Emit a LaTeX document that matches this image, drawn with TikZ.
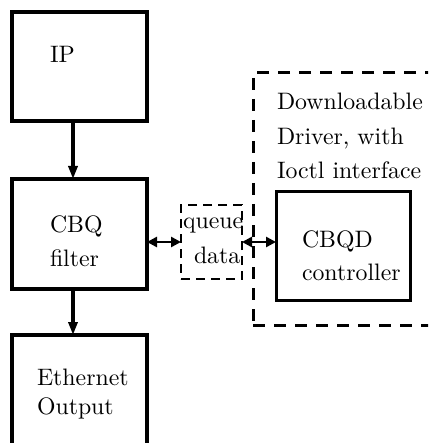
\documentclass[tikz,border=0pt]{standalone}
\usetikzlibrary{arrows.meta}
\newcommand{\T}[1]{\scalebox{2.38}{#1}}
\begin{document}
\begin{tikzpicture}[x=1pt,y=-1pt,
  box/.style={draw, line width=3.5pt, minimum width=135pt, inner sep=0pt, outer sep=0pt},
  txt/.style={anchor=base west, inner sep=0pt, outer sep=0pt},
  mainarrow/.style={line width=3.5pt, -{Triangle[length=13pt,width=9pt]}},
  sidearrow/.style={line width=2.5pt, {Triangle[length=10pt,width=10pt]}-{Triangle[length=10pt,width=10pt]}}]
\useasboundingbox (0,0) rectangle (428,443);
\clip (0,0) rectangle (428,443);
\fill[white] (0,0) rectangle (428,443);
% boxes
\node[box, minimum height=109pt] (ip) at (79.5,66.5) {};
\node[box, minimum height=110pt] (cbq) at (79.5,234) {};
\node[box, minimum height=145pt] (eth) at (79.5,407.5) {};
\node[draw, line width=3pt, dash pattern=on 12pt off 9pt, minimum width=197pt, minimum height=252pt, inner sep=0pt, outer sep=0pt] (drv) at (351.5,199) {};
\node[draw, line width=2.5pt, dash pattern=on 9pt off 6pt, minimum width=61pt, minimum height=74pt, inner sep=0pt, outer sep=0pt] (queue) at (211.5,242) {};
\node[draw, line width=3pt, minimum width=134pt, minimum height=108pt, inner sep=0pt, outer sep=0pt] (cbqd) at (343,246) {};
% texts
\node[txt] (tip) at (50,63) {\T{IP}};
\node[txt] (tcbq) at (50,232) {\T{CBQ}};
\node[txt] (tfilter) at (50,266) {\T{filter}};
\node[txt] (teth) at (37,385) {\T{Ethernet}};
\node[txt] (tout) at (37,414) {\T{Output}};
\node[txt] (tdl) at (277,110) {\T{Downloadable}};
\node[txt] (tdrv) at (277,145) {\T{Driver, with}};
\node[txt] (tio) at (277,179) {\T{Ioctl interface}};
\node[txt] (tcbqd) at (302,247) {\T{CBQD}};
\node[txt] (tctl) at (302,280) {\T{controller}};
\node[txt] (tq) at (183,228) {\T{queue}};
\node[txt] (tdata) at (194,263) {\T{data}};
% connectors
\draw[mainarrow] ([xshift=-6.5pt]ip.south) -- ([xshift=-6.5pt]cbq.north);
\draw[mainarrow] ([xshift=-6.5pt]cbq.south) -- ([xshift=-6.5pt]eth.north);
\draw[sidearrow] ([yshift=-8pt]cbq.east) -- (queue.west);
\draw[sidearrow] (queue.east) -- ([yshift=4pt]cbqd.west);
\end{tikzpicture}
\end{document}
